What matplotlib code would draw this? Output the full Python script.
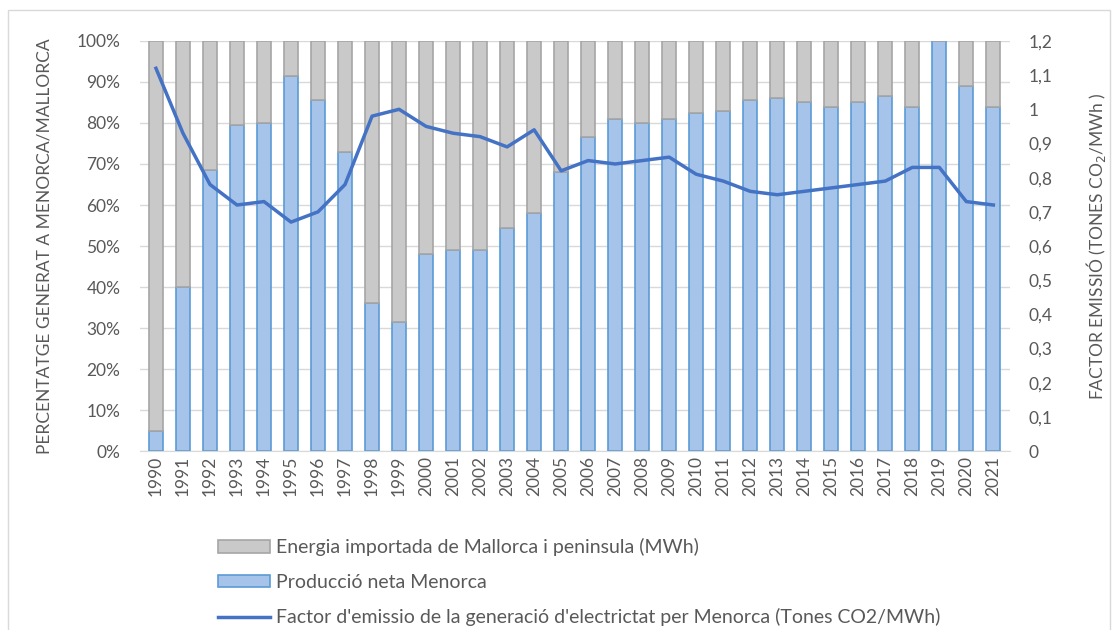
import numpy as np
import matplotlib.pyplot as plt
from matplotlib.patches import Rectangle
from matplotlib.ticker import FuncFormatter

plt.rcParams['font.family'] = ['Lato', 'DejaVu Sans']

anys = list(range(1990, 2022))
produccio_pct = [5, 40, 68.5, 79.5, 80, 91.5, 85.5, 73, 36, 31.5,
                 48, 49, 49, 54.5, 58, 68, 76.5, 81, 80, 81,
                 82.5, 83, 85.5, 86, 85, 84, 85, 86.5, 84, 100,
                 89, 84]
factor_emissio = [1.12, 0.93, 0.78, 0.72, 0.73, 0.67, 0.70, 0.78, 0.98, 1.00,
                  0.95, 0.93, 0.92, 0.89, 0.94, 0.82, 0.85, 0.84, 0.85, 0.86,
                  0.81, 0.79, 0.76, 0.75, 0.76, 0.77, 0.78, 0.79, 0.83, 0.83,
                  0.73, 0.72]
importada_pct = [100 - p for p in produccio_pct]

gris_text = '#595959'

fig = plt.figure(figsize=(11.18, 6.3), dpi=100)
ax = fig.add_axes([0.125, 0.284, 0.778, 0.651])

x = np.arange(len(anys))
ax.bar(x, produccio_pct, width=0.52, color='#a6c4e9', edgecolor='#5b9bd5',
       linewidth=1.2, label='Producció neta Menorca', zorder=2)
ax.bar(x, importada_pct, bottom=produccio_pct, width=0.52, color='#c9c9c9',
       edgecolor='#a5a5a5', linewidth=1.2,
       label='Energia importada de Mallorca i peninsula (MWh)', zorder=2)

ax.set_ylim(0, 100)
ax.set_xlim(-0.6, len(anys) - 0.4)
ax.set_yticks(np.arange(0, 101, 10))
ax.yaxis.set_major_formatter(FuncFormatter(lambda v, p: f'{int(v)}%'))
ax.set_xticks(x)
ax.set_xticklabels([str(a) for a in anys], rotation=90)
ax.grid(axis='y', color='#d9d9d9', linewidth=1, zorder=0)
ax.set_axisbelow(True)
for s in ['top', 'right', 'left']:
    ax.spines[s].set_visible(False)
ax.spines['bottom'].set_color('#d9d9d9')
ax.tick_params(axis='both', length=0, colors=gris_text, labelsize=12.5)
ax.tick_params(axis='y', pad=14)
ax.set_ylabel('PERCENTATGE GENERAT A MENORCA/MALLORCA', color=gris_text,
              fontsize=12.5, labelpad=17)

ax2 = ax.twinx()
ax2.plot(x, factor_emissio, color='#4472c4', linewidth=2.5,
         label="Factor d'emissio de la generació d'electrictat per Menorca (Tones CO2/MWh)",
         zorder=3)
ax2.set_ylim(0, 1.2)
ax2.set_yticks(np.arange(0, 1.21, 0.1))
ax2.yaxis.set_major_formatter(
    FuncFormatter(lambda v, p: ('%g' % round(v, 1)).replace('.', ',')))
for s in ax2.spines.values():
    s.set_visible(False)
ax2.tick_params(axis='y', length=0, colors=gris_text, labelsize=12.5, pad=14)
ax2.set_ylabel('FACTOR EMISSIÓ (TONES CO$_2$/MWh )', color=gris_text,
               fontsize=12.5, labelpad=22)

h1, l1 = ax.get_legend_handles_labels()
h2, l2 = ax2.get_legend_handles_labels()
fig.legend([h1[1], h1[0], h2[0]], [l1[1], l1[0], l2[0]],
           loc='upper left', bbox_to_anchor=(0.188, 0.158), ncol=1,
           frameon=False, fontsize=14, labelcolor=gris_text,
           handlelength=2.7, handleheight=0.6, handletextpad=0.3,
           labelspacing=0.9, borderaxespad=0)

fig.patches.append(Rectangle((0.007, -0.05), 0.986, 1.034,
                             transform=fig.transFigure, fill=False,
                             edgecolor='#d9d9d9', linewidth=1))

fig.savefig('out.png', dpi=100)
